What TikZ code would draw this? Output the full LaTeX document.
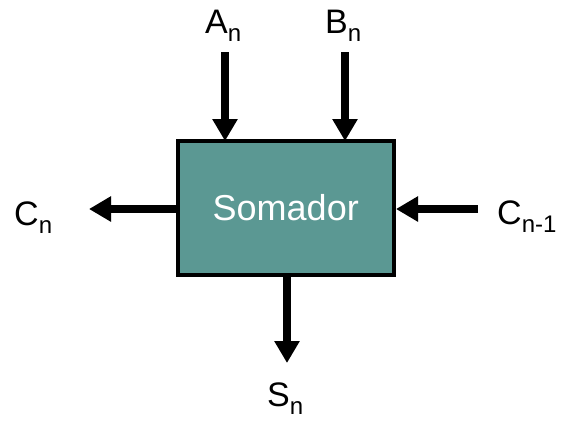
\documentclass[tikz,border=0pt]{standalone}
\usepackage{fontspec}
\setmainfont{Liberation Sans}
\usetikzlibrary{arrows.meta}
\definecolor{adderfill}{HTML}{5B9893}
\newcommand{\subn}[1]{\raisebox{-0.25em}{\fontsize{24}{24}\selectfont #1}}
\tikzset{
  sig/.style={line width=8pt,-{Triangle[width=24pt,length=22pt]}},
  sigshadow/.style={line width=8pt,-{Triangle[width=24pt,length=22pt]},draw=black,opacity=0.12},
  lbl/.style={anchor=base west,inner sep=0pt,font=\fontsize{34}{34}\selectfont},
  adder/.style={draw=black,line width=4pt,fill=adderfill}
}
\begin{document}
\begin{tikzpicture}[x=1pt,y=-1pt]
  \useasboundingbox (0,0) rectangle (561,421);
  % main block
  \node[adder,minimum width=216.5pt,minimum height=134pt,inner sep=0pt,
        text=white,font=\fontsize{36}{36}\selectfont]
       (box) at (285.75,208) {Somador};
  % signal labels
  \node[lbl] (an) at (205,33) {A\subn{n}};
  \node[lbl] (bn) at (325,33) {B\subn{n}};
  \node[lbl] (cn) at (14,225) {C\subn{n}};
  \node[lbl] (cn1) at (497,224) {C\subn{n-1}};
  \node[lbl] (sn) at (267,406) {S\subn{n}};
  % free ends of the signal arrows
  \coordinate (a0) at (225,52);
  \coordinate (b0) at (345,52);
  \coordinate (c1) at (89,209);
  \coordinate (c0) at (478,209);
  \coordinate (s1) at (287,363);
  % soft shadows
  \begin{scope}[shift={(2,3)}]
    \draw[sigshadow] (a0) -- ([yshift=-2pt]a0 |- box.north);
    \draw[sigshadow] (b0) -- ([yshift=-2pt]b0 |- box.north);
    \draw[sigshadow] (box.west |- c1) -- (c1);
    \draw[sigshadow] (c0) -- (box.east |- c0);
    \draw[sigshadow] ([yshift=4pt]box.south -| s1) -- (s1);
  \end{scope}
  % signal arrows
  \draw[sig] (a0) -- ([yshift=-2pt]a0 |- box.north);
  \draw[sig] (b0) -- ([yshift=-2pt]b0 |- box.north);
  \draw[sig] (box.west |- c1) -- (c1);
  \draw[sig] (c0) -- (box.east |- c0);
  \draw[sig] ([yshift=4pt]box.south -| s1) -- (s1);
\end{tikzpicture}
\end{document}
